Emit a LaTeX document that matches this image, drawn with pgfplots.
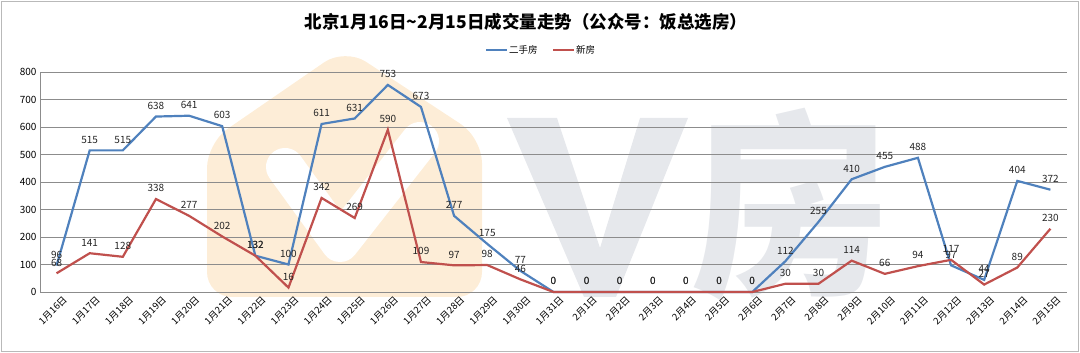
\documentclass[border=0pt]{standalone}
\usepackage{fontspec}
\setmainfont{Noto Sans CJK SC}
\usepackage{pgfplots}
\pgfplotsset{compat=1.18}
\definecolor{blueS}{HTML}{4F81BD}
\definecolor{redS}{HTML}{C0504D}
\definecolor{gridc}{HTML}{8C8C8C}
\definecolor{peach}{RGB}{253,237,215}
\definecolor{wmgray}{RGB}{230,232,236}
\pgfplotstableread{
x y
0 96
1 515
2 515
3 638
4 641
5 603
6 132
7 100
8 611
9 631
10 753
11 673
12 277
13 175
14 77
15 0
16 0
17 0
18 0
19 0
20 0
21 0
22 112
23 255
24 410
25 455
26 488
27 97
28 44
29 404
30 372
}\second
\pgfplotstableread{
x y
0 68
1 141
2 128
3 338
4 277
5 202
6 132
7 16
8 342
9 269
10 590
11 109
12 97
13 98
14 46
15 0
16 0
17 0
18 0
19 0
20 0
21 0
22 30
23 30
24 114
25 66
26 94
27 117
28 27
29 89
30 230
}\newh
\begin{document}
\begin{tikzpicture}
\useasboundingbox (0pt,0pt) rectangle (1080pt,353pt);
% watermark (background)
\fill[peach, rounded corners=25pt] (207pt,56pt) -- (207pt,210pt) -- (345pt,305pt) -- (482pt,215pt) -- (482pt,56pt) -- cycle;
\draw[white, line width=38pt, line join=round, line cap=round] (285pt,186pt) -- (340pt,110pt) -- (420pt,212pt);
\fill[wmgray] (507pt,235pt) -- (557pt,235pt) -- (600pt,105pt) -- (640pt,235pt) -- (688pt,235pt) -- (616pt,56pt) -- (584pt,56pt) -- cycle;
\node[wmgray, font=\fontsize{200}{200}\selectfont\bfseries, inner sep=0pt] at (790pt,148pt) {房};
\draw[gray!55, line width=1.5pt] (1.5pt,1.5pt) rectangle (1078.5pt,351.5pt);
\node[font=\fontsize{17.5}{17.5}\selectfont\bfseries] at (526pt,331pt) {北京1月16日\textasciitilde 2月15日成交量走势（公众号：饭总选房）};
% legend
\draw[blueS, line width=1.5pt] (486pt,303pt) -- (507pt,303pt);
\node[anchor=west, font=\fontsize{9.5}{9.5}\selectfont, inner sep=1pt] at (508pt,303pt) {二手房};
\draw[redS, line width=1.5pt] (553pt,303pt) -- (574pt,303pt);
\node[anchor=west, font=\fontsize{9.5}{9.5}\selectfont, inner sep=1pt] at (575pt,303pt) {新房};
\begin{axis}[at={(40pt,61pt)}, anchor=south west, scale only axis,
  width=1027pt, height=220pt,
  xmin=-0.5, xmax=30.5, ymin=0, ymax=800,
  ytick={0,100,...,800},
  xtick={0,...,30},
  xticklabels={1月16日,1月17日,1月18日,1月19日,1月20日,1月21日,1月22日,1月23日,1月24日,1月25日,1月26日,1月27日,1月28日,1月29日,1月30日,1月31日,2月1日,2月2日,2月3日,2月4日,2月5日,2月6日,2月7日,2月8日,2月9日,2月10日,2月11日,2月12日,2月13日,2月14日,2月15日},
  x tick label style={rotate=45, anchor=north east, font=\fontsize{9.5}{9.5}\selectfont, inner sep=1pt, yshift=-5pt, xshift=3pt},
  y tick label style={font=\fontsize{10}{10}\selectfont},
  /pgf/number format/assume math mode=true,
  ymajorgrids, grid style={gridc, line width=0.8pt},
  axis x line*=bottom, axis y line*=left,
  axis line style={gridc, line width=0.8pt},
  major tick length=0pt,
  tick style={draw=none},
  nodes near coords,
  every node near coord/.append style={font=\fontsize{10}{10}\selectfont, black!85, inner sep=2pt, yshift=4pt},
  clip=false,
]
\addplot[blueS, line width=2.2pt, mark=none] table[x=x,y=y] {\second};
\addplot[redS, line width=2.2pt, mark=none] table[x=x,y=y] {\newh};
\end{axis}
\end{tikzpicture}
\end{document}
